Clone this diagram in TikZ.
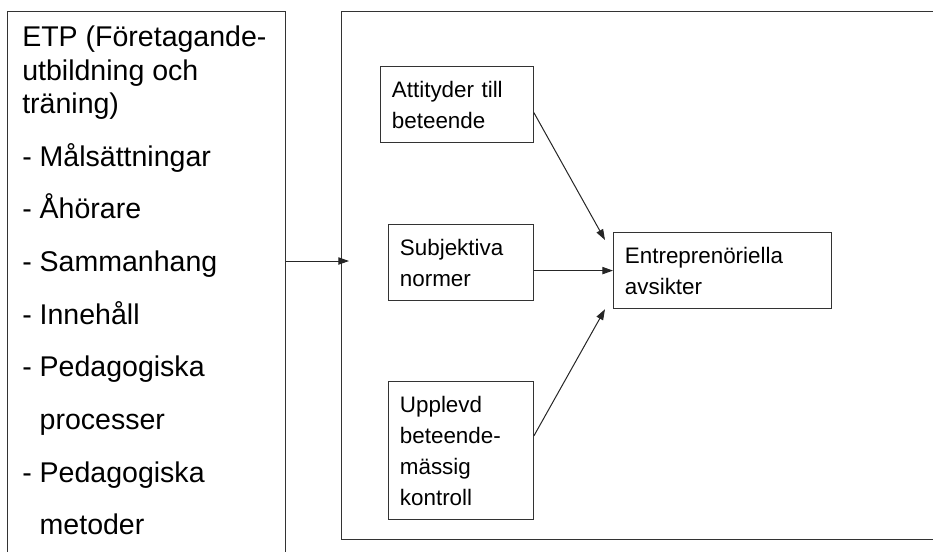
\documentclass[tikz,border=0pt]{standalone}
\usepackage{fontspec}
\setmainfont{Liberation Sans}
\usetikzlibrary{arrows.meta}
\begin{document}
\begin{tikzpicture}[x=0.75pt,y=-0.75pt,
  frame/.style={draw=black!80,line width=0.9pt,inner sep=0pt,anchor=north west},
  smallbox/.style={draw=black!80,line width=0.9pt,align=left,anchor=north west,
    inner xsep=8.5pt,inner ysep=0pt,font=\fontsize{16.8pt}{23.25pt}\selectfont},
  arr/.style={draw=black!85,line width=0.75pt,-{Triangle[length=8pt,width=5.5pt]}}]
\useasboundingbox (0,0) rectangle (933,551);
\clip (0,0) rectangle (933,551);
% outer boxes
\node[frame,minimum width=278*0.75pt,minimum height=560*0.75pt] (left) at (7,11) {};
\node[frame,minimum width=610*0.75pt,minimum height=528*0.75pt] (big) at (341,11) {};
% left text
\node[anchor=north west,align=left,inner sep=0pt,
  font=\fontsize{21.4pt}{25pt}\selectfont] (lt) at (22,26) {%
ETP (Företagande-\\
utbildning och\\
träning)\\[14.5pt]
- Målsättningar\\[14.5pt]
- Åhörare\\[14.5pt]
- Sammanhang\\[14.5pt]
- Innehåll\\[14.5pt]
- Pedagogiska\\[14.5pt]
\hphantom{-}\ processer\\[14.5pt]
- Pedagogiska\\[14.5pt]
\hphantom{-}\ metoder};
% inner boxes
\node[smallbox,text width=130*0.75pt,minimum height=76*0.75pt] (att) at (380,66)
  {Attityder till\\beteende};
\node[smallbox,text width=122*0.75pt,minimum height=76*0.75pt] (subj) at (388,224)
  {Subjektiva\\normer};
\node[smallbox,text width=122*0.75pt,minimum height=138*0.75pt] (upp) at (388,381)
  {Upplevd\\beteende-\\mässig\\kontroll};
\node[smallbox,text width=195*0.75pt,minimum height=76*0.75pt] (ent) at (613,232)
  {Entreprenöriella\\avsikter};
% connectors
\coordinate (m) at (0,261);
\draw[arr] (left.east |- m) -- ([xshift=6pt]big.west |- m);
\draw[arr] ([yshift=-6pt]att.east) -- ([xshift=-6pt,yshift=-6pt]ent.north west);
\draw[arr] (subj.east |- ent.west) -- (ent.west);
\draw[arr] ([yshift=11pt]upp.east) -- ([xshift=-6pt]ent.south west);
\end{tikzpicture}
\end{document}
